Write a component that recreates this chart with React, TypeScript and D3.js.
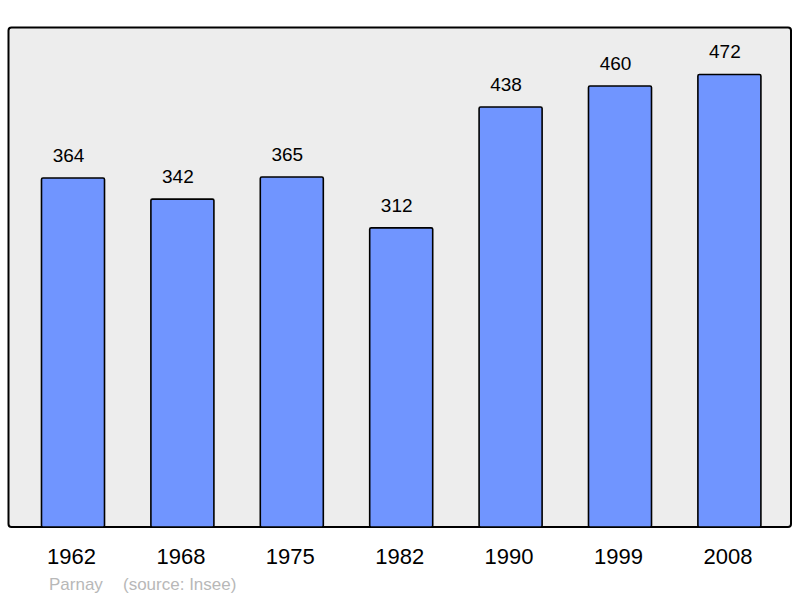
import React from "react";
import * as d3 from "d3";

const years = ["1962", "1968", "1975", "1982", "1990", "1999", "2008"];
const population = [364, 342, 365, 312, 438, 460, 472];
const townName = "Parnay";
const sourceText = "(source: Insee)";

const W = 800;
const H = 598;
const frame = { x: 8.5, y: 27.5, w: 782.5, h: 499.5 };

export default function App() {
  const x = d3
    .scaleBand<string>()
    .domain(years)
    .range([18.3, 784.1])
    .paddingInner(0.424)
    .paddingOuter(0.212);
  const y = d3.scaleLinear().domain([0, 364]).range([527, 178]);
  const font = "'Liberation Sans', Arial, sans-serif";

  return (
    <svg
      width={W}
      height={H}
      style={{ position: "absolute", left: 0, top: 0 }}
      fontFamily={font}
    >
      <rect
        x={frame.x}
        y={frame.y}
        width={frame.w}
        height={frame.h}
        rx={3}
        fill="#ededed"
        stroke="#000"
        strokeWidth={2}
      />
      {years.map((yr, i) => {
        const bx = x(yr)!;
        const bw = x.bandwidth();
        const top = y(population[i]);
        return (
          <g key={yr}>
            <rect
              x={bx}
              y={top}
              width={bw}
              height={y(0) - top}
              rx={1.5}
              fill="#7095ff"
              stroke="#000"
              strokeWidth={1.6}
            />
            <text
              x={bx + bw / 2 - 4.5}
              y={top - 16}
              textAnchor="middle"
              fontSize={19}
              fill="#000"
            >
              {population[i]}
            </text>
            <text
              x={bx + bw / 2 - 1.5}
              y={564}
              textAnchor="middle"
              fontSize={22}
              fill="#000"
            >
              {yr}
            </text>
          </g>
        );
      })}
      <text x={49} y={590} fontSize={17} fill="#b8b8b8">
        {townName}
      </text>
      <text x={123} y={590} fontSize={17} fill="#b8b8b8">
        {sourceText}
      </text>
    </svg>
  );
}
